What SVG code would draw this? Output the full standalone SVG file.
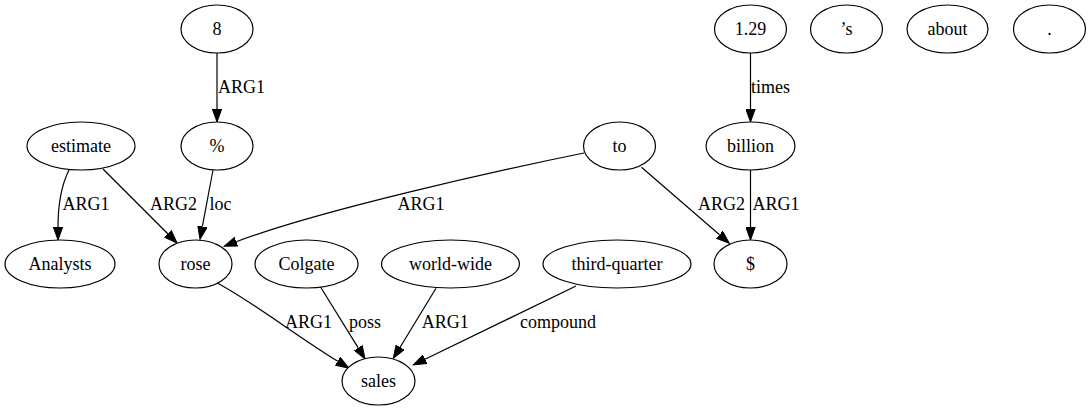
<svg xmlns="http://www.w3.org/2000/svg" width="1091" height="411" viewBox="0 0 1091 411" font-family="'Liberation Serif', 'Times New Roman', Times, serif" font-size="18">
<defs>
<style>
.n ellipse{fill:#fff;stroke:#000;stroke-width:1.2}
.n text{font-family:'Liberation Serif','Times New Roman',Times,serif;font-size:18px;text-anchor:middle;fill:#000}
.e path{fill:none;stroke:#000;stroke-width:1.2;marker-end:url(#ah)}
.l text{font-family:'Liberation Serif','Times New Roman',Times,serif;font-size:18px;fill:#000}
</style>
<marker id="ah" markerUnits="userSpaceOnUse" markerWidth="14" markerHeight="10" refX="0" refY="4.7" orient="auto" viewBox="0 0 14 9.4">
<path d="M0,0 L13,4.7 L0,9.4 z" fill="#000" stroke="#000" stroke-width="1"/>
</marker>
</defs>
<rect width="1091" height="411" fill="#fff"/>
<g id="connectors" class="e">
<path d="M217,53 L217,109"/>
<path d="M750.5,53 L750.5,109"/>
<path d="M69,170 C61,186 58,203 58,227"/>
<path d="M103,169 L168,234"/>
<path d="M213,170 L202.4,226.5"/>
<path d="M584,153 C500,170 320,210 236.3,241.7"/>
<path d="M641.5,167.3 L719.5,234.8"/>
<path d="M750.5,170 L750.5,227"/>
<path d="M217,283 C250,300 295,335 337.8,361.3"/>
<path d="M320.7,287.3 L358.2,347.9"/>
<path d="M436,288.3 L400.1,347.2"/>
<path d="M576,286 L425,359.3"/>
</g>
<g id="labels" class="l">
<text x="218" y="93">ARG1</text>
<text x="751" y="93">times</text>
<text x="62.5" y="210">ARG1</text>
<text x="150" y="210">ARG2</text>
<text x="209.5" y="210">loc</text>
<text x="397.5" y="210">ARG1</text>
<text x="698" y="210">ARG2</text>
<text x="752.5" y="210">ARG1</text>
<text x="285" y="328">ARG1</text>
<text x="349" y="328">poss</text>
<text x="421.7" y="328">ARG1</text>
<text x="520" y="328">compound</text>
</g>
<g id="n_8" class="n"><ellipse cx="217" cy="29" rx="36" ry="24"/><text x="217" y="35">8</text></g>
<g id="n_129" class="n"><ellipse cx="750.5" cy="29" rx="36" ry="24"/><text x="750.5" y="35">1.29</text></g>
<g id="n_s" class="n"><ellipse cx="846.5" cy="29" rx="36" ry="24"/><text x="846.5" y="35">’s</text></g>
<g id="n_about" class="n"><ellipse cx="947.5" cy="29" rx="40.5" ry="24"/><text x="947.5" y="35">about</text></g>
<g id="n_dot" class="n"><ellipse cx="1049.5" cy="29" rx="36" ry="24"/><text x="1049.5" y="35">.</text></g>
<g id="n_estimate" class="n"><ellipse cx="81" cy="146" rx="54" ry="24"/><text x="81" y="152">estimate</text></g>
<g id="n_pct" class="n"><ellipse cx="217" cy="146" rx="36" ry="24"/><text x="217" y="152">%</text></g>
<g id="n_to" class="n"><ellipse cx="619.5" cy="146" rx="36" ry="24"/><text x="619.5" y="152">to</text></g>
<g id="n_billion" class="n"><ellipse cx="750.5" cy="146" rx="44.5" ry="24"/><text x="750.5" y="152">billion</text></g>
<g id="n_analysts" class="n"><ellipse cx="60" cy="264" rx="55" ry="24"/><text x="60" y="270">Analysts</text></g>
<g id="n_rose" class="n"><ellipse cx="195.5" cy="264" rx="36.5" ry="24"/><text x="195.5" y="270">rose</text></g>
<g id="n_colgate" class="n"><ellipse cx="306.5" cy="264" rx="51.5" ry="24"/><text x="306.5" y="270">Colgate</text></g>
<g id="n_worldwide" class="n"><ellipse cx="450.5" cy="264" rx="69" ry="24"/><text x="450.5" y="270">world-wide</text></g>
<g id="n_thirdquarter" class="n"><ellipse cx="617" cy="264" rx="74" ry="24"/><text x="617" y="270">third-quarter</text></g>
<g id="n_dollar" class="n"><ellipse cx="750.5" cy="264" rx="36.5" ry="24"/><text x="750.5" y="270">$</text></g>
<g id="n_sales" class="n"><ellipse cx="378.5" cy="381" rx="36.5" ry="24"/><text x="378.5" y="387">sales</text></g>
</svg>
